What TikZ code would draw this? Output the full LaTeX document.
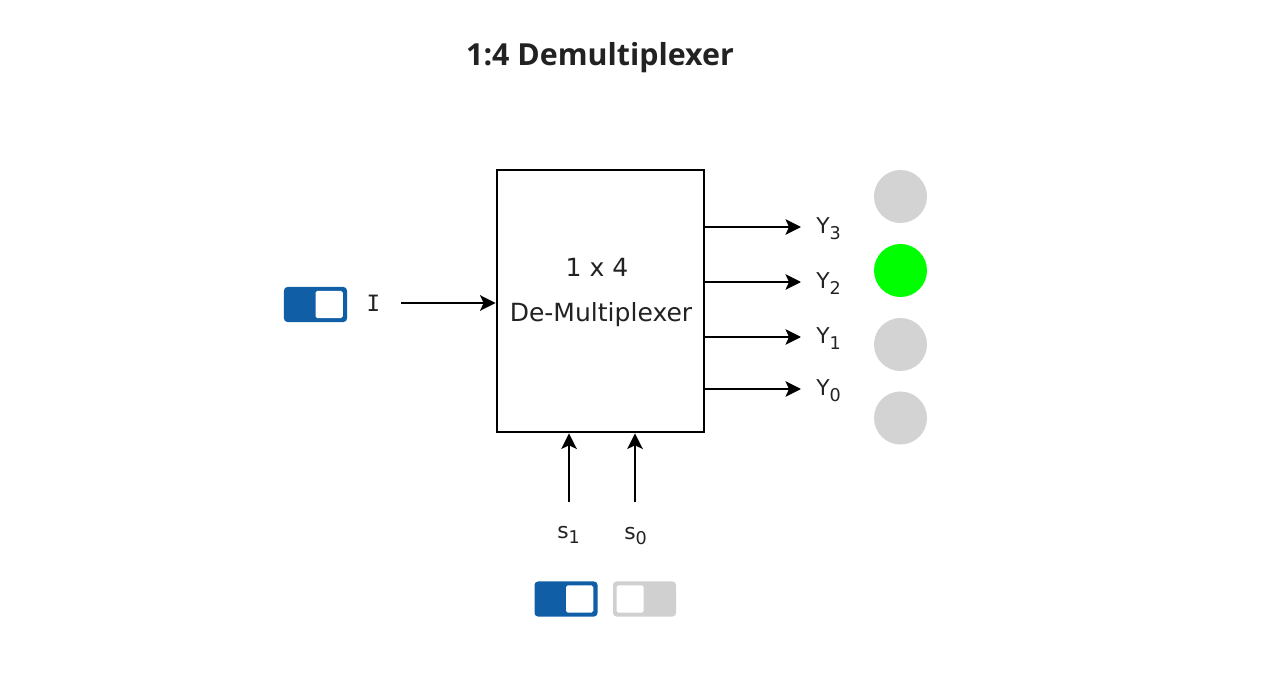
\documentclass[tikz,border=0pt]{standalone}
\usepackage{fontspec}
\setmainfont{DejaVu Sans}
\newfontfamily\titlefont{Open Sans}
\newfontfamily\pinfont{DejaVu Sans Mono}
\usetikzlibrary{arrows.meta}
\definecolor{swblue}{RGB}{16,94,166}
\definecolor{swgray}{RGB}{208,208,208}
\definecolor{ledoff}{RGB}{211,211,211}
\definecolor{ledon}{RGB}{0,255,0}
\definecolor{ink}{RGB}{34,34,34}
\newcommand{\sig}[2]{#1\raisebox{-4pt}{\fontsize{12.5}{12.5}\selectfont #2}}

\tikzset{
  wire/.style={line width=1.7pt, -{Stealth[length=11pt,width=11pt,inset=2.5pt]}},
  lbl/.style={font=\fontsize{15.5}{17}\selectfont, text=ink, inner sep=0pt},
  boxtxt/.style={font=\fontsize{17.8}{19}\selectfont, text=ink, inner sep=0pt},
  led/.style={circle, minimum size=1.325cm, inner sep=0pt},
  toggle/.style={rounded corners=2.5pt, minimum width=1.575cm, minimum height=0.875cm, inner sep=0pt},
  knob/.style={fill=white, rounded corners=1.2pt, minimum width=0.68cm, minimum height=0.68cm, inner sep=0pt}
}

\begin{document}
\begin{tikzpicture}[x=0.025cm, y=-0.025cm]
\useasboundingbox (0,0) rectangle (1280,681);
\node[font=\titlefont\bfseries\fontsize{21.6}{24}\selectfont, text=ink] (title) at (600,57.5) {1:4 Demultiplexer};

\node[draw, line width=2pt, minimum width=5.175cm, minimum height=6.55cm, inner sep=0pt] (demux) at (600.5,301) {};
\node[boxtxt, anchor=base] (size) at (597,277) {1 x 4};
\node[boxtxt, anchor=base] (name) at (601,322) {De-Multiplexer};

% input
\node[toggle, fill=swblue] (swI) at (315.5,304.5) {};
\node[knob, anchor=east] (knobI) at ([xshift=-3pt]swI.east) {};
\node[font=\pinfont\fontsize{16}{17}\selectfont, text=ink, inner sep=0pt] (inI) at (373.5,303.5) {I};
\coordinate (srcI) at (401,303);
\draw[wire] (srcI) -- (srcI -| demux.west);

% outputs
\foreach \y/\n in {227/3,282/2,337/1,389/0} {
  \coordinate (tip\n) at (801,\y);
  \draw[wire] (demux.east |- tip\n) -- (tip\n);
  \node[lbl, anchor=base west] (Y\n) at (816,\y+6.5) {\sig{Y}{\n}};
}
\node[led, fill=ledoff] (led3) at (900.5,196.5) {};
\node[led, fill=ledon] (led2) at (900.5,270.5) {};
\node[led, fill=ledoff] (led1) at (900.5,344.5) {};
\node[led, fill=ledoff] (led0) at (900.5,418) {};

% select lines
\coordinate (srcS1) at (569,502);
\coordinate (srcS0) at (635,502);
\draw[wire] (srcS1) -- (srcS1 |- demux.south);
\draw[wire] (srcS0) -- (srcS0 |- demux.south);
\node[lbl, anchor=base west] (s1) at (557,538) {\sig{s}{1}};
\node[lbl, anchor=base west] (s0) at (624,539) {\sig{s}{0}};

\node[toggle, fill=swblue] (swS1) at (566,599) {};
\node[knob, anchor=east] (knobS1) at ([xshift=-3pt]swS1.east) {};
\node[toggle, fill=swgray] (swS0) at (644.5,599) {};
\node[knob, anchor=west] (knobS0) at ([xshift=2.5pt]swS0.west) {};
\end{tikzpicture}
\end{document}
